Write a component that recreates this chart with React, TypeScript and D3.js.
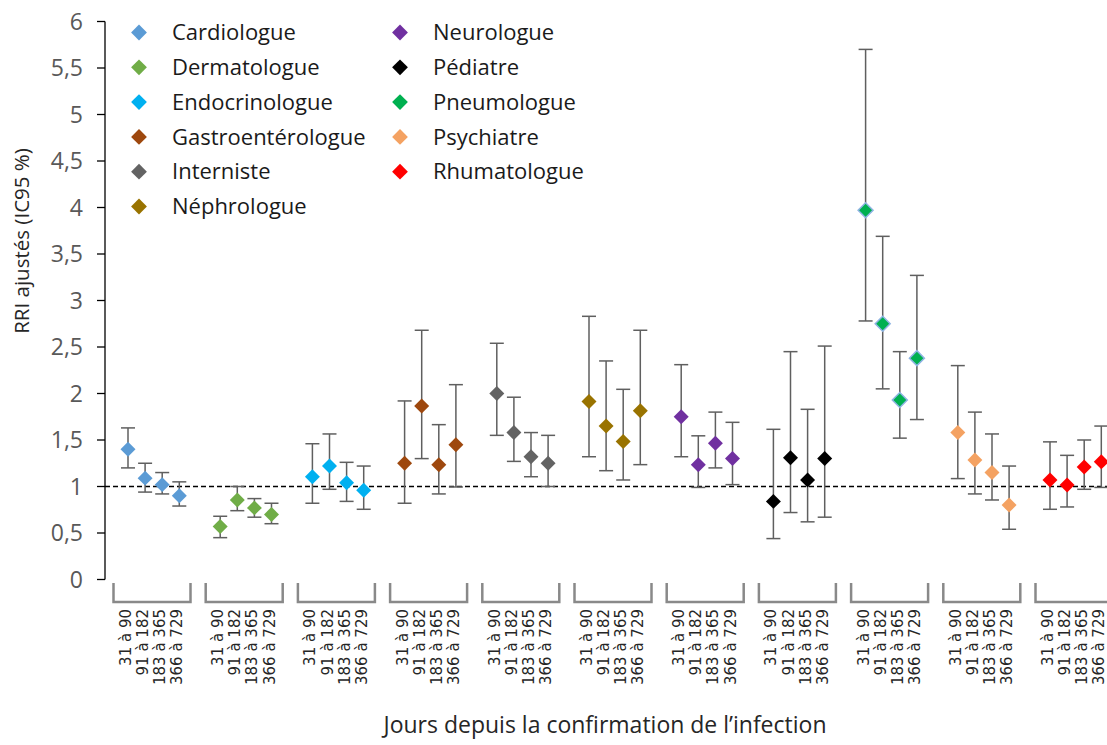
import React from "react";
import * as d3 from "d3";

const specialties = [
  "Cardiologue",
  "Dermatologue",
  "Endocrinologue",
  "Gastroentérologue",
  "Interniste",
  "Néphrologue",
  "Neurologue",
  "Pédiatre",
  "Pneumologue",
  "Psychiatre",
  "Rhumatologue",
];

const periods = ["31 à 90", "91 à 182", "183 à 365", "366 à 729"];

const colors = [
  "#5B9BD5",
  "#70AD47",
  "#00B0F0",
  "#9E480E",
  "#636363",
  "#997300",
  "#7030A0",
  "#000000",
  "#00B050",
  "#F4A262",
  "#FF0000",
];

const estimates = [
  [1.4, 1.09, 1.02, 0.9],
  [0.57, 0.855, 0.77, 0.7],
  [1.105, 1.22, 1.04, 0.96],
  [1.25, 1.865, 1.235, 1.45],
  [2.0, 1.58, 1.32, 1.25],
  [1.915, 1.65, 1.485, 1.815],
  [1.75, 1.235, 1.465, 1.3],
  [0.84, 1.31, 1.07, 1.3],
  [3.97, 2.75, 1.93, 2.38],
  [1.58, 1.285, 1.15, 0.8],
  [1.07, 1.015, 1.21, 1.265],
];

const lowerCI = [
  [1.2, 0.94, 0.92, 0.79],
  [0.45, 0.74, 0.67, 0.6],
  [0.82, 0.97, 0.84, 0.755],
  [0.82, 1.3, 0.92, 0.995],
  [1.55, 1.27, 1.105, 1.0],
  [1.32, 1.17, 1.07, 1.235],
  [1.32, 0.99, 1.2, 1.02],
  [0.44, 0.72, 0.62, 0.67],
  [2.78, 2.05, 1.52, 1.72],
  [1.085, 0.92, 0.855, 0.54],
  [0.755, 0.78, 0.97, 0.99],
];

const upperCI = [
  [1.63, 1.25, 1.15, 1.05],
  [0.68, 1.0, 0.87, 0.82],
  [1.46, 1.565, 1.26, 1.22],
  [1.92, 2.68, 1.665, 2.095],
  [2.54, 1.96, 1.58, 1.55],
  [2.83, 2.35, 2.045, 2.68],
  [2.31, 1.545, 1.8, 1.69],
  [1.615, 2.45, 1.83, 2.51],
  [5.7, 3.69, 2.45, 3.27],
  [2.3, 1.8, 1.565, 1.22],
  [1.48, 1.335, 1.5, 1.65],
];

const yTicks = [0, 0.5, 1, 1.5, 2, 2.5, 3, 3.5, 4, 4.5, 5, 5.5, 6];

const W = 1107;
const H = 745;
const FONT = "'Open Sans', sans-serif";

export default function App() {
  const y = d3.scaleLinear().domain([0, 6]).range([579.5, 21.5]);
  const step = 92.2;
  const gx = d3
    .scaleBand<string>()
    .domain(specialties)
    .range([108.5, 108.5 + step * specialties.length])
    .padding(0);
  const px = d3
    .scalePoint<string>()
    .domain(periods)
    .range([19.5, 19.5 + 17.1 * 3]);
  const xOf = (g: string, p: string) => (gx(g) as number) + (px(p) as number);

  const diamond = d3.symbol(d3.symbolSquare, 112)();
  const legendDiamond = d3.symbol(d3.symbolSquare, 125)();
  const fmt = (v: number) => String(v).replace(".", ",");
  const axisX = 105;

  return (
    <svg
      width={W}
      height={H}
      style={{ position: "absolute", left: 0, top: 0, background: "#fff" }}
      fontFamily={FONT}
    >
      <rect x={0} y={0} width={W} height={H} fill="#fff" />
      {/* y axis */}
      <line x1={axisX} x2={axisX} y1={y(6)} y2={y(0)} stroke="#000" strokeWidth={1.3} />
      {yTicks.map((t) => (
        <g key={t}>
          <line x1={axisX - 8} x2={axisX} y1={y(t)} y2={y(t)} stroke="#000" strokeWidth={1.3} />
          <text
            x={83}
            y={y(t)}
            dy="0.35em"
            textAnchor="end"
            fontSize={23}
            fill="#595959"
          >
            {fmt(t)}
          </text>
        </g>
      ))}
      <text
        transform={`translate(22, ${241}) rotate(-90)`}
        textAnchor="middle"
        dy="0.35em"
        fontSize={20.5}
        fill="#262626"
      >
        RRI ajustés (IC95 %)
      </text>

      {/* reference line */}
      <line
        x1={axisX}
        x2={W}
        y1={y(1)}
        y2={y(1)}
        stroke="#000"
        strokeWidth={1.5}
        strokeDasharray="5,3"
      />

      {/* group brackets + labels */}
      {specialties.map((g) => {
        const x0 = (gx(g) as number) + 5;
        const x1 = (gx(g) as number) + 82;
        return (
          <g key={g}>
            <path
              d={`M${x0},583V602H${x1}V583`}
              fill="none"
              stroke="#898989"
              strokeWidth={2.5}
            />
            {periods.map((p) => (
              <text
                key={p}
                transform={`translate(${xOf(g, p) + 3}, 609) rotate(-90)`}
                textAnchor="end"
                fontFamily="'DejaVu Sans', sans-serif"
                fontSize={15}
                fill="#262626"
              >
                {p}
              </text>
            ))}
          </g>
        );
      })}

      {/* error bars */}
      {specialties.map((g, gi) =>
        periods.map((p, pi) => {
          const cx = xOf(g, p);
          return (
            <g key={g + p} stroke="#5f5f5f" strokeWidth={1.5}>
              <line x1={cx} x2={cx} y1={y(lowerCI[gi][pi])} y2={y(upperCI[gi][pi])} />
              <line x1={cx - 7} x2={cx + 7} y1={y(lowerCI[gi][pi])} y2={y(lowerCI[gi][pi])} />
              <line x1={cx - 7} x2={cx + 7} y1={y(upperCI[gi][pi])} y2={y(upperCI[gi][pi])} />
            </g>
          );
        })
      )}

      {/* markers */}
      {specialties.map((g, gi) =>
        periods.map((p, pi) => (
          <path
            key={g + p + "m"}
            d={diamond as string}
            transform={`translate(${xOf(g, p)}, ${y(estimates[gi][pi])}) rotate(45)`}
            fill={colors[gi]}
            stroke={g === "Pneumologue" ? "#8FB4E3" : "none"}
            strokeWidth={g === "Pneumologue" ? 1.5 : 0}
          />
        ))
      )}

      {/* legend */}
      {specialties.map((g, i) => {
        const col = i < 6 ? 0 : 1;
        const row = i < 6 ? i : i - 6;
        const mx = col === 0 ? 139 : 400;
        const tx = col === 0 ? 172 : 433;
        const ly = 32.5 + 34.8 * row;
        return (
          <g key={g + "leg"}>
            <path
              d={legendDiamond as string}
              transform={`translate(${mx}, ${ly}) rotate(45)`}
              fill={colors[i]}
            />
            <text x={tx} y={ly} dy="0.35em" fontSize={22} fill="#1a1a1a">
              {g}
            </text>
          </g>
        );
      })}

      {/* x axis title */}
      <text x={605} y={733} textAnchor="middle" fontSize={23} fill="#262626">
        Jours depuis la confirmation de l’infection
      </text>
    </svg>
  );
}
